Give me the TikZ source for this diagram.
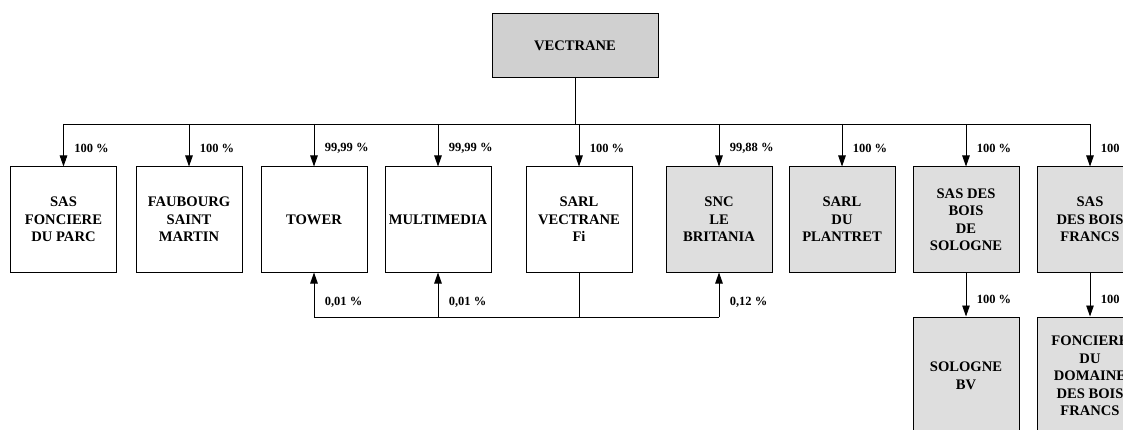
\documentclass[tikz,border=0pt]{standalone}
\usepackage{fontspec}
\setmainfont{Liberation Serif}
\usetikzlibrary{arrows.meta, positioning, calc}

\definecolor{headgray}{HTML}{D0D0D0}
\definecolor{subgray}{HTML}{DEDEDE}

\begin{document}
\begin{tikzpicture}[x=1pt, y=-1pt,
	firm/.style={rectangle, draw, line width=1pt, minimum width=106, minimum height=105,
		align=center, inner sep=2pt, font=\fontsize{14.6}{17.5}\selectfont\bfseries},
	share/.style={right, xshift=7, font=\fontsize{12.5}{14}\selectfont\bfseries},
	link/.style={line width=0.9pt, -{Triangle[length=11pt,width=7.5pt]}},
	wire/.style={line width=0.9pt}]
	\useasboundingbox (0,0) rectangle (1123,430);
	\clip (0,0) rectangle (1123,430);

	% holding
	\node[firm, fill=headgray, minimum width=166, minimum height=64] (V) at (575,46) {VECTRANE};

	% subsidiaries
	\node[firm] (A) at (63.5,219.5) {SAS\\FONCIERE\\DU PARC};
	\node[firm, right=18.5 of A] (B) {FAUBOURG\\SAINT\\MARTIN};
	\node[firm, right=18 of B] (C) {TOWER};
	\node[firm, right=17 of C] (D) {MULTIMEDIA};
	\node[firm, right=34 of D] (E) {SARL\\VECTRANE\\Fi};
	\node[firm, fill=subgray, right=33 of E] (F) {SNC\\LE\\BRITANIA};
	\node[firm, fill=subgray, right=16 of F] (G) {SARL\\DU\\PLANTRET};
	\node[firm, fill=subgray, right=17 of G] (H) {SAS DES\\BOIS\\DE\\SOLOGNE};
	\node[firm, fill=subgray, right=17 of H] (I) {SAS\\DES BOIS\\FRANCS};
	\node[firm, fill=subgray, minimum height=118, anchor=north] (J) at ($(H.south)+(0,44)$) {SOLOGNE\\BV};
	\node[firm, fill=subgray, minimum height=118, anchor=north] (K) at ($(I.south)+(0,44)$) {FONCIERE\\DU\\DOMAINE\\DES BOIS\\FRANCS};

	% top bus
	\coordinate (bus) at (575,124);
	\draw[wire] (V) -- (V |- bus);
	\draw[wire] (A.north |- bus) -- (I.north |- bus);
	\draw[link] (A.north |- bus) -- node[share, pos=0.58] {100 \%} (A.north);
	\draw[link] (B.north |- bus) -- node[share, pos=0.58] {100 \%} (B.north);
	\draw[link] (C.north |- bus) -- node[share, pos=0.58] {99,99 \%} (C.north);
	\draw[link] (D.north |- bus) -- node[share, pos=0.58] {99,99 \%} (D.north);
	\draw[link] (E.north |- bus) -- node[share, pos=0.58] {100 \%} (E.north);
	\draw[link] (F.north |- bus) -- node[share, pos=0.58] {99,88 \%} (F.north);
	\draw[link] (G.north |- bus) -- node[share, pos=0.58] {100 \%} (G.north);
	\draw[link] (H.north |- bus) -- node[share, pos=0.58] {100 \%} (H.north);
	\draw[link] (I.north |- bus) -- node[share, pos=0.58] {100 \%} (I.north);

	% cross holdings of SARL VECTRANE Fi
	\coordinate (low) at (575,317);
	\draw[wire] (E.south) -- (E.south |- low);
	\draw[wire] (C.south |- low) -- (F.south |- low);
	\draw[link] (C.south |- low) -- node[share, pos=0.33] {0,01 \%} (C.south);
	\draw[link] (D.south |- low) -- node[share, pos=0.33] {0,01 \%} (D.south);
	\draw[link] (F.south |- low) -- node[share, pos=0.33] {0,12 \%} (F.south);

	% second level
	\draw[link] (H) -- node[share, pos=0.61] {100 \%} (J);
	\draw[link] (I) -- node[share, pos=0.61] {100 \%} (K);
\end{tikzpicture}
\end{document}
